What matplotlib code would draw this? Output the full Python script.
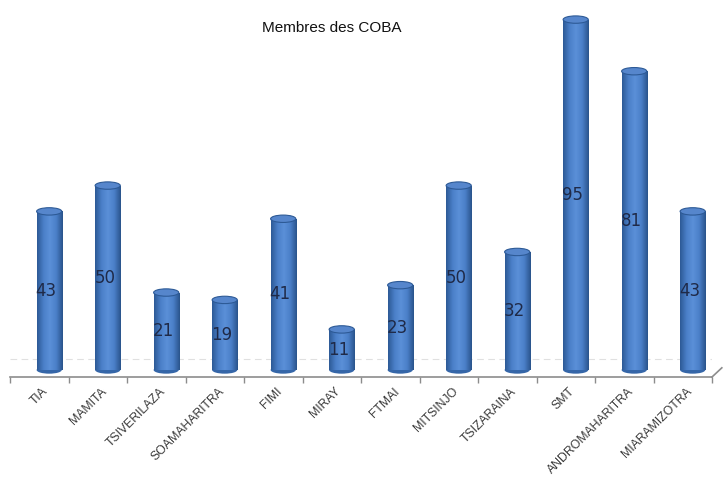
import numpy as np
import matplotlib.pyplot as plt
from matplotlib.patches import Ellipse
from matplotlib.colors import LinearSegmentedColormap

# Données
categories = ['TIA', 'MAMITA', 'TSIVERILAZA', 'SOAMAHARITRA', 'FIMI', 'MIRAY',
              'FTMAI', 'MITSINJO', 'TSIZARAINA', 'SMT', 'ANDROMAHARITRA', 'MIARAMIZOTRA']
membres = [43, 50, 21, 19, 41, 11, 23, 50, 32, 95, 81, 43]

fig = plt.figure(figsize=(7.25, 4.79), dpi=100)
ax = fig.add_axes([10 / 725, (479 - 377) / 479, 702 / 725, 367 / 479])

x = np.arange(len(categories))
decal = 0.17      # décalage "3D" des cylindres
largeur = 0.43
h_ell = 2.0       # hauteur des ellipses (unités de données)

# dégradé horizontal pour l'effet cylindre
cmap = LinearSegmentedColormap.from_list(
    'cyl', ['#2d5a96', '#4a7fc8', '#5b90d8', '#4a7fc8', '#2a548c'])
grad = np.linspace(0, 1, 64).reshape(1, -1)

ax.axhline(3, color='#e0e0e0', lw=0.8, ls=(0, (6, 4)), zorder=0)

barres = ax.bar(x + decal, membres, width=largeur, color='#4a7fc8',
                edgecolor='none', zorder=2)
for b, v in zip(barres, membres):
    x0 = b.get_x()
    xc = x0 + largeur / 2
    # fond arrondi
    bas = Ellipse((xc, 0), largeur, h_ell, facecolor='#3566a8',
                  edgecolor='none', zorder=1)
    ax.add_patch(bas)
    im = ax.imshow(grad, extent=[x0, x0 + largeur, 0, v], aspect='auto',
                   cmap=cmap, zorder=2)
    im.set_clip_path(b)
    haut = Ellipse((xc, v), largeur, h_ell, facecolor='#5686cc',
                   edgecolor='#2d5a96', lw=0.8, zorder=3)
    ax.add_patch(haut)
    ax.text(xc - 0.05, v / 2, str(v), ha='center', va='center',
            fontsize=12, color='#1f2a48', family='DejaVu Sans', zorder=4)

ax.set_xlim(-0.5, len(categories) - 0.5)
ax.set_ylim(-1.9, 97.6)
ax.set_yticks([])

for s in ['top', 'right', 'left']:
    ax.spines[s].set_visible(False)
ax.spines['bottom'].set_color('#8c8c8c')
ax.spines['bottom'].set_linewidth(1.2)

ax.set_xticks(np.arange(-0.5, len(categories)), minor=True)
ax.set_xticks(x + 0.05)
ax.set_xticklabels(categories, rotation=45, ha='right', va='top',
                   rotation_mode='anchor', fontsize=8.8, color='#3a3a3a',
                   family=['Liberation Sans Narrow', 'Liberation Sans'])
ax.tick_params(axis='x', which='major', length=0, pad=6)
ax.tick_params(axis='x', which='minor', length=4, color='#8c8c8c', width=1)

# arête du plancher 3D
ax.plot([1.0, 1.014], [0, 0.025], transform=ax.transAxes, color='#8c8c8c',
        lw=1.2, clip_on=False)

fig.text(332 / 725, 1 - 28 / 479, 'Membres des COBA', ha='center', va='center',
         fontsize=11, family='Liberation Sans', color='#111111')

fig.savefig('out.png', dpi=100)
